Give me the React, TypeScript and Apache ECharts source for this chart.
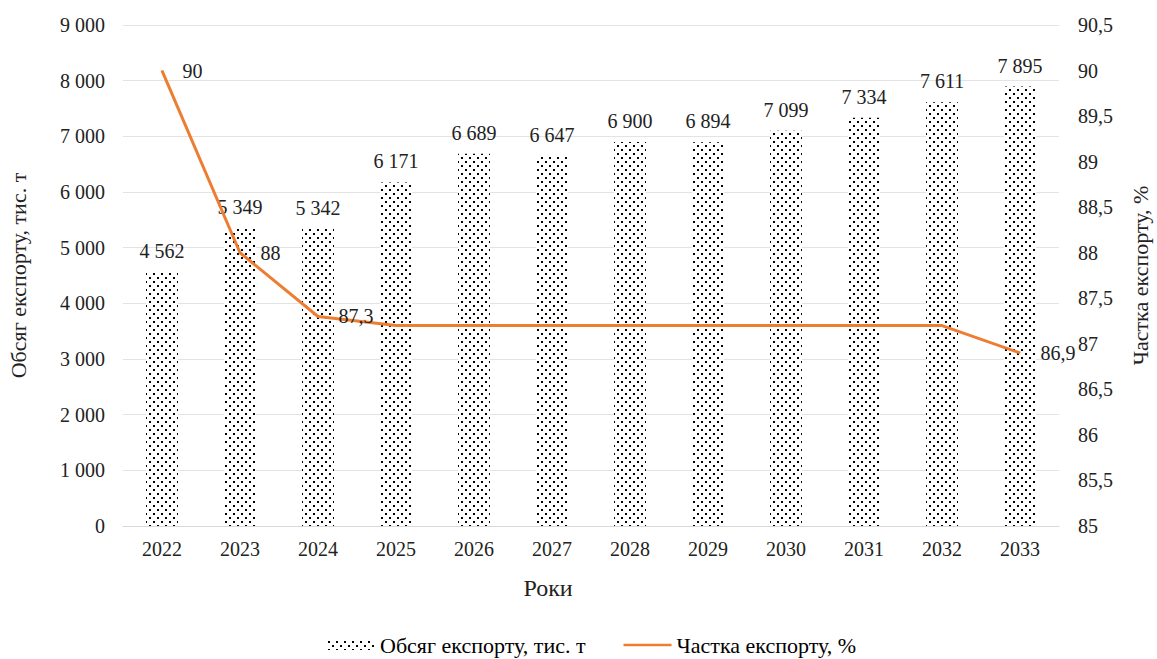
import React, { useEffect, useRef } from "react";
import * as echarts from "echarts";

const years = ["2022", "2023", "2024", "2025", "2026", "2027", "2028", "2029", "2030", "2031", "2032", "2033"];
const exportVolume = [4562, 5349, 5342, 6171, 6689, 6647, 6900, 6894, 7099, 7334, 7611, 7895];
const exportShare = [90, 88, 87.3, 87.2, 87.2, 87.2, 87.2, 87.2, 87.2, 87.2, 87.2, 86.9];
const shareLabelShown = [true, true, true, false, false, false, false, false, false, false, false, true];

const FONT = "'Liberation Serif', 'Times New Roman', Times, serif";

function makePattern(): HTMLCanvasElement {
  const c = document.createElement("canvas");
  c.width = 8;
  c.height = 8;
  const ctx = c.getContext("2d")!;
  ctx.fillStyle = "#ffffff";
  ctx.fillRect(0, 0, 8, 8);
  ctx.fillStyle = "#000000";
  ctx.fillRect(1, 1, 2, 2);
  ctx.fillRect(5, 5, 2, 2);
  return c;
}

const fmtThousands = (v: number) => String(Math.round(v)).replace(/\B(?=(\d{3})+(?!\d))/g, " ");
const fmtComma = (v: number) => String(Math.round(v * 10) / 10).replace(".", ",");

export default function App() {
  const ref = useRef<HTMLDivElement>(null);
  useEffect(() => {
    if (!ref.current) return;
    const chart = echarts.init(ref.current, null, { renderer: "svg" });
    const pattern = makePattern();
    const barColor: any = { image: pattern, repeat: "repeat", imageWidth: 8, imageHeight: 8 };
    chart.setOption({
      animation: false,
      backgroundColor: "#ffffff",
      textStyle: { fontFamily: FONT },
      grid: { left: 123, right: 98, top: 25, bottom: 133, outerBoundsMode: "none", containLabel: false },
      legend: {
        bottom: -2,
        left: 322,
        itemGap: 38,
        itemWidth: 48,
        itemHeight: 10,
        textStyle: { fontFamily: FONT, fontSize: 22, color: "#000" },
        data: [
          { name: "Обсяг експорту, тис. т", icon: "rect" },
          { name: "Частка експорту, %", icon: "path://M0,0 H60 V3 H0 Z" },
        ],
      },
      xAxis: {
        type: "category",
        data: years,
        name: "Роки",
        nameLocation: "middle",
        nameGap: 50,
        nameTextStyle: { fontFamily: FONT, fontSize: 24, color: "#222", padding: [0, 86, 0, 0] },
        axisLine: { lineStyle: { color: "#d9d9d9" } },
        axisTick: { show: false },
        axisLabel: { fontFamily: FONT, fontSize: 20, color: "#222", margin: 13 },
      },
      yAxis: [
        {
          type: "value",
          min: 0,
          max: 9000,
          interval: 1000,
          name: "Обсяг експорту, тис. т",
          nameLocation: "middle",
          nameRotate: 90,
          nameGap: 94,
          nameTextStyle: { fontFamily: FONT, fontSize: 22, color: "#222" },
          axisLine: { show: false },
          axisTick: { show: false },
          splitLine: { lineStyle: { color: "#e3e3e3" } },
          axisLabel: { fontFamily: FONT, fontSize: 20, color: "#222", margin: 18, formatter: fmtThousands },
        },
        {
          type: "value",
          min: 85,
          max: 90.5,
          interval: 0.5,
          name: "Частка експорту, %",
          nameLocation: "middle",
          nameRotate: 90,
          nameGap: 70,
          nameTextStyle: { fontFamily: FONT, fontSize: 22, color: "#222" },
          axisLine: { show: false },
          axisTick: { show: false },
          splitLine: { show: false },
          axisLabel: { fontFamily: FONT, fontSize: 20, color: "#222", margin: 19, formatter: fmtComma },
        },
      ],
      series: [
        {
          name: "Обсяг експорту, тис. т",
          type: "bar",
          data: exportVolume,
          barWidth: 32,
          itemStyle: { color: barColor },
          label: {
            show: true,
            position: "top",
            distance: 11,
            fontFamily: FONT,
            fontSize: 20,
            color: "#222",
            formatter: (p: any) => fmtThousands(p.value),
          },
        },
        {
          name: "Частка експорту, %",
          type: "line",
          yAxisIndex: 1,
          data: exportShare.map((v, i) => ({
            value: v,
            label: { show: shareLabelShown[i] },
          })),
          symbol: "circle",
          symbolSize: 1,
          showSymbol: true,
          lineStyle: { color: "#ED7D31", width: 3 },
          itemStyle: { color: "#ED7D31" },
          label: {
            show: false,
            position: "right",
            distance: 20,
            fontFamily: FONT,
            fontSize: 20,
            color: "#222",
            formatter: (p: any) => fmtComma(p.value),
          },
          z: 5,
        },
      ],
    });
    return () => chart.dispose();
  }, []);
  return (
    <div
      ref={ref}
      style={{ position: "fixed", left: 0, top: 0, width: 1157, height: 659 }}
    />
  );
}
